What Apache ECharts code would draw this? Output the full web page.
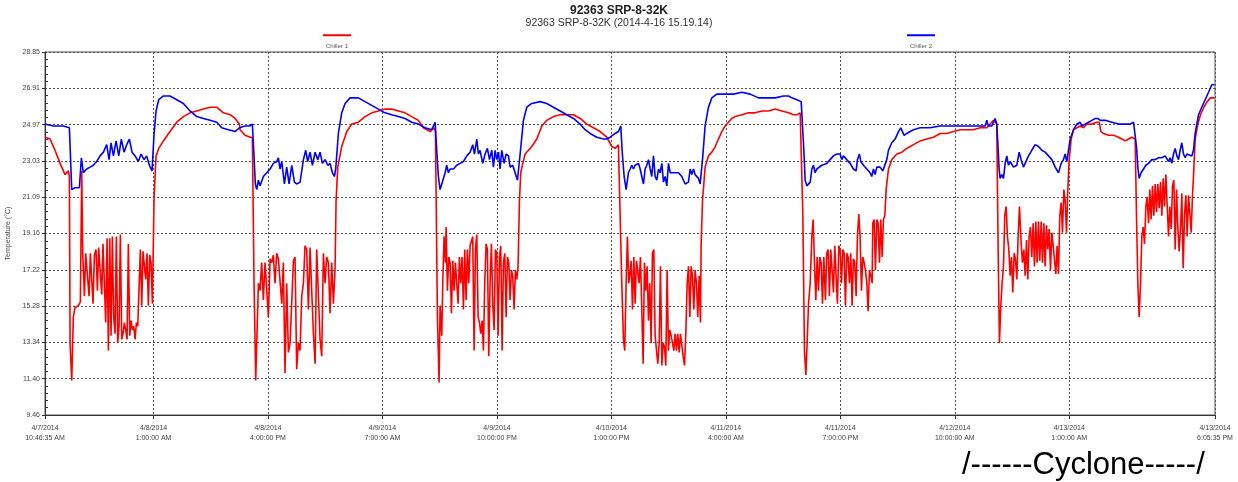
<!DOCTYPE html>
<html><head><meta charset="utf-8">
<script src="https://cdn.jsdelivr.net/npm/echarts@6/dist/echarts.min.js"></script>
<style>html,body{margin:0;padding:0;background:#fff}#chart{width:1238px;height:482px}</style>
</head><body><div id="chart"></div>
<script>
const chartTitle = '92363 SRP-8-32K';
const chartSubtitle = '92363 SRP-8-32K (2014-4-16 15.19.14)';
const footnote = '/------Cyclone-----/';
const yAxisName = 'Temperature (°C)';
const seriesNames = ['Chiller 1', 'Chiller 2'];
const yTickLabels = ['9.46','11.40','13.34','15.28','17.22','19.16','21.09','23.03','24.97','26.91','28.85'];
// hours counted from 4/7/2014 10:00 AM
const xTickHours = [0.776, 15, 30, 45, 60, 75, 90, 105, 120, 135, 154.1];
const xTickLabels = ['4/7/2014\n10:46:35 AM','4/8/2014\n1:00:00 AM','4/8/2014\n4:00:00 PM','4/9/2014\n7:00:00 AM','4/9/2014\n10:00:00 PM','4/10/2014\n1:00:00 PM','4/11/2014\n4:00:00 AM','4/11/2014\n7:00:00 PM','4/12/2014\n10:00:00 AM','4/13/2014\n1:00:00 AM','4/13/2014\n6:05:35 PM'];

const chiller1 = [
[0.78,24.3],[1.44,24.2],[2.09,23.6],[2.75,22.9],[3.40,22.3],[3.84,22.5],[3.97,22.2],[4.06,13.3],[4.28,11.3],[4.49,14.7],
[4.71,15.2],[5.15,15.3],[5.41,15.5],[5.59,22.5],[5.72,18.1],[5.94,15.8],[6.11,18.1],[6.33,18.0],[6.55,15.8],[6.72,18.1],
[6.90,18.2],[7.07,15.4],[7.25,18.0],[7.46,18.3],[7.64,16.1],[7.81,18.4],[8.03,18.5],[8.21,15.9],[8.38,18.6],[8.56,18.7],
[8.73,14.4],[8.91,18.9],[9.08,12.9],[9.26,18.9],[9.43,13.7],[9.60,19.0],[9.78,14.7],[9.95,13.8],[10.13,19.0],[10.30,13.3],
[10.48,14.2],[10.65,19.1],[10.83,13.5],[11.00,13.8],[11.18,14.4],[11.35,14.0],[11.53,13.5],[11.70,18.6],[11.88,13.7],[12.05,14.5],
[12.23,14.0],[12.40,14.2],[12.58,13.5],[12.75,14.4],[12.93,14.2],[13.10,14.3],[13.27,18.3],[13.45,15.3],[13.62,18.2],[13.80,18.3],
[13.97,16.7],[14.15,18.1],[14.32,15.3],[14.50,18.0],[14.67,17.6],[14.85,15.4],[15.07,21.1],[15.33,23.3],[15.68,23.7],[16.29,24.1],
[17.16,24.6],[18.04,25.1],[18.91,25.4],[19.78,25.6],[20.66,25.7],[21.53,25.8],[22.41,25.9],[23.28,25.9],[24.15,25.6],[25.03,25.5],
[25.68,25.3],[26.25,25.0],[26.34,24.7],[26.99,24.4],[27.65,24.3],[27.95,24.3],[28.17,16.5],[28.39,11.3],[28.56,13.8],[28.74,16.5],
[28.96,16.1],[29.17,17.6],[29.39,15.6],[29.61,17.6],[29.83,17.7],[30.05,14.7],[30.27,17.8],[30.49,17.6],[30.70,18.0],[30.92,16.5],
[31.14,18.1],[31.36,17.8],[31.58,17.9],[31.80,15.4],[32.01,17.6],[32.23,11.7],[32.45,16.5],[32.67,12.8],[32.89,13.3],[33.11,13.3],
[33.33,17.7],[33.54,17.9],[33.76,11.9],[33.98,13.3],[34.20,12.9],[34.42,15.8],[34.64,16.5],[34.85,18.5],[35.07,18.3],[35.29,15.1],
[35.51,18.4],[35.73,18.3],[35.95,13.8],[36.17,12.2],[36.38,18.3],[36.60,18.3],[36.82,13.5],[37.04,12.6],[37.26,18.1],[37.48,16.5],
[37.69,17.9],[37.91,17.6],[38.13,14.9],[38.35,17.6],[38.57,15.4],[38.79,17.3],[38.92,20.9],[39.14,22.7],[39.66,23.8],[40.32,24.6],
[40.97,25.0],[41.84,25.1],[42.72,25.4],[43.59,25.6],[44.47,25.7],[45.34,25.8],[46.21,25.8],[47.09,25.7],[47.96,25.6],[48.83,25.4],
[49.71,25.2],[50.36,24.8],[51.24,24.6],[51.76,24.8],[51.94,24.6],[52.20,14.7],[52.42,11.2],[52.55,15.3],[52.77,13.7],[52.90,16.5],
[53.07,19.0],[53.25,17.6],[53.34,19.5],[53.51,16.1],[53.69,17.9],[53.86,17.6],[54.04,14.9],[54.21,17.7],[54.39,16.1],[54.56,17.6],
[54.73,17.7],[54.91,15.4],[55.08,17.9],[55.26,16.5],[55.43,17.9],[55.61,15.1],[55.78,18.3],[55.96,15.6],[56.13,18.3],[56.31,16.5],
[56.48,18.5],[56.66,18.6],[56.83,19.0],[57.01,12.9],[57.18,18.3],[57.36,19.1],[57.53,14.7],[57.71,14.4],[57.88,13.8],[58.06,14.5],
[58.23,12.9],[58.40,16.5],[58.58,18.6],[58.75,18.3],[58.93,12.6],[59.10,16.5],[59.28,18.6],[59.45,15.4],[59.63,14.0],[59.80,18.3],
[59.98,18.1],[60.15,13.7],[60.33,17.9],[60.50,18.5],[60.68,12.9],[60.85,17.6],[61.03,18.1],[61.20,14.7],[61.38,17.9],[61.55,17.6],
[61.72,15.6],[61.90,17.2],[62.07,16.9],[62.25,15.1],[62.42,17.2],[62.60,16.7],[62.77,17.4],[62.95,20.9],[63.12,22.4],[63.39,22.9],
[63.69,23.4],[64.13,23.6],[64.56,23.8],[65.22,24.2],[65.88,24.9],[66.53,25.2],[67.40,25.4],[68.28,25.5],[69.15,25.5],[70.03,25.5],
[70.90,25.3],[71.77,25.0],[72.65,24.8],[73.52,24.6],[74.39,24.3],[75.05,23.8],[75.49,23.7],[75.92,23.9],[76.14,24.0],[76.36,16.5],
[76.58,13.5],[76.75,12.9],[76.93,16.5],[77.10,19.0],[77.28,16.5],[77.41,16.9],[77.59,17.7],[77.76,15.1],[77.94,17.9],[78.11,15.4],
[78.29,17.7],[78.46,17.7],[78.63,16.5],[78.81,17.9],[78.98,17.9],[79.16,12.2],[79.33,17.6],[79.51,16.1],[79.68,17.4],[79.86,14.5],
[80.03,16.5],[80.21,13.3],[80.38,18.1],[80.56,18.3],[80.73,13.7],[80.91,13.8],[81.08,12.2],[81.26,13.3],[81.43,17.4],[81.61,12.1],
[81.78,13.3],[81.96,13.1],[82.13,12.1],[82.30,17.2],[82.48,12.9],[82.65,14.0],[82.83,13.7],[83.00,13.8],[83.18,12.9],[83.35,13.8],
[83.53,12.9],[83.70,13.8],[83.88,12.8],[84.05,13.8],[84.23,13.7],[84.40,12.6],[84.58,12.1],[84.75,13.8],[84.93,16.5],[85.10,17.4],
[85.28,14.7],[85.45,17.4],[85.62,16.9],[85.80,15.1],[85.97,17.2],[86.15,16.5],[86.32,14.7],[86.50,16.9],[86.67,14.4],[86.76,18.6],
[86.94,20.9],[87.28,22.7],[87.72,23.3],[88.16,23.5],[88.60,23.8],[89.03,24.2],[89.47,24.6],[89.91,24.9],[90.34,25.1],[90.78,25.3],
[91.22,25.4],[92.09,25.5],[92.96,25.6],[93.84,25.6],[94.71,25.7],[95.59,25.7],[96.46,25.8],[97.33,25.7],[98.21,25.6],[98.86,25.5],
[99.30,25.5],[99.74,25.6],[99.95,25.7],[100.09,20.1],[100.30,12.9],[100.48,11.6],[100.65,13.3],[100.83,15.4],[101.05,16.5],[101.27,19.0],
[101.44,19.9],[101.61,17.6],[101.79,15.6],[101.96,17.9],[102.14,16.1],[102.31,17.9],[102.49,17.6],[102.66,15.4],[102.84,17.9],[103.05,15.6],
[103.22,18.1],[103.40,18.3],[103.57,15.8],[103.75,18.3],[103.92,18.4],[104.10,16.0],[104.27,18.5],[104.45,18.6],[104.62,15.4],[104.80,18.5],
[104.97,18.3],[105.15,16.5],[105.32,18.3],[105.50,18.1],[105.67,15.3],[105.85,18.1],[106.02,17.9],[106.19,16.5],[106.37,18.1],[106.54,15.3],
[106.72,17.8],[106.89,17.6],[107.07,15.8],[107.24,19.0],[107.42,20.2],[107.59,19.0],[107.77,16.1],[107.94,17.9],[108.12,17.6],[108.29,17.2],
[108.47,16.5],[108.64,15.0],[108.82,17.2],[108.99,16.9],[109.17,16.5],[109.25,19.7],[109.43,19.9],[109.60,17.2],[109.78,19.9],[109.95,19.7],
[110.13,17.6],[110.30,19.9],[110.48,17.9],[110.65,19.9],[110.83,20.1],[111.00,21.5],[111.31,22.6],[111.74,23.1],[112.40,23.4],[113.05,23.5],
[113.71,23.7],[114.15,23.8],[114.58,23.9],[115.46,24.1],[116.33,24.2],[117.20,24.3],[118.08,24.5],[118.95,24.5],[119.83,24.6],[120.70,24.7],
[121.57,24.7],[122.45,24.7],[123.32,24.8],[124.19,24.8],[124.63,25.0],[125.07,25.2],[125.33,25.3],[125.50,25.0],[125.68,18.3],[125.85,13.3],
[126.03,15.3],[126.20,16.5],[126.38,17.4],[126.55,20.1],[126.73,20.6],[126.90,19.0],[127.08,18.3],[127.25,16.9],[127.43,17.9],[127.60,16.0],
[127.78,18.1],[127.95,17.8],[128.13,16.7],[128.30,19.0],[128.48,20.6],[128.70,18.6],[128.87,17.6],[129.05,18.3],[129.22,16.9],[129.40,18.8],
[129.57,16.7],[129.74,19.0],[129.92,19.5],[130.09,17.9],[130.27,19.7],[130.44,17.4],[130.62,19.8],[130.79,17.6],[130.97,19.8],[131.14,17.7],
[131.32,19.8],[131.49,17.6],[131.67,19.7],[131.84,17.4],[132.02,19.6],[132.19,18.3],[132.37,19.4],[132.54,17.2],[132.72,19.2],[132.89,18.5],
[133.07,18.6],[133.24,17.0],[133.41,18.5],[133.59,17.0],[133.76,20.1],[133.94,20.8],[134.11,19.2],[134.29,21.5],[134.46,20.9],[134.64,19.2],
[134.81,21.5],[134.99,23.1],[135.25,24.2],[135.56,24.7],[135.99,24.8],[136.43,24.9],[136.87,24.8],[137.30,25.0],[137.96,25.0],[138.61,25.1],
[138.92,25.1],[139.14,24.6],[139.49,24.5],[140.14,24.4],[140.80,24.4],[141.45,24.3],[141.89,24.2],[142.33,24.1],[142.76,24.2],[143.20,24.3],
[143.46,24.4],[143.64,24.2],[143.81,20.1],[143.99,16.5],[144.16,14.7],[144.34,16.5],[144.51,19.0],[144.69,19.5],[144.86,18.6],[145.04,20.6],
[145.21,21.1],[145.39,19.7],[145.56,21.5],[145.73,19.9],[145.91,21.7],[146.08,20.1],[146.26,21.8],[146.43,20.3],[146.61,21.8],[146.78,20.5],
[146.96,21.9],[147.13,20.1],[147.31,22.1],[147.48,20.6],[147.66,22.3],[147.83,22.4],[148.01,19.0],[148.18,20.6],[148.36,19.4],[148.53,21.7],
[148.71,22.0],[148.88,18.3],[149.06,21.5],[149.23,19.5],[149.40,18.2],[149.58,19.4],[149.75,21.3],[149.93,17.3],[150.10,20.1],[150.28,21.2],
[150.45,19.0],[150.63,21.2],[150.80,21.3],[150.98,19.2],[151.15,21.2],[151.28,22.2],[151.50,24.2],[151.85,25.0],[152.20,25.5],[152.64,25.9],
[153.07,26.2],[153.51,26.4],[154.04,26.4]
];

const chiller2 = [
[0.78,25.0],[1.87,24.9],[3.18,24.9],[3.97,24.8],[4.28,21.5],[4.71,21.6],[5.28,21.6],[5.54,23.2],[5.80,22.4],[6.24,22.6],
[6.68,22.7],[7.11,22.8],[7.55,23.0],[7.99,23.3],[8.43,23.5],[8.86,23.9],[9.17,23.1],[9.43,24.0],[9.74,23.3],[10.09,24.1],
[10.44,23.3],[10.78,24.2],[11.13,23.5],[11.48,23.9],[11.83,24.2],[12.18,23.5],[12.58,23.3],[13.01,23.0],[13.36,23.4],[13.76,23.1],
[14.10,23.3],[14.45,22.8],[14.80,22.5],[15.07,24.5],[15.33,25.7],[15.68,26.3],[16.29,26.5],[17.16,26.5],[18.04,26.3],[18.91,26.1],
[19.78,25.7],[20.66,25.4],[21.53,25.3],[22.41,25.2],[23.28,25.1],[23.93,24.8],[24.81,24.7],[25.68,24.6],[26.25,24.8],[26.34,24.8],
[26.99,24.9],[27.65,24.9],[27.95,25.0],[28.13,23.6],[28.34,21.8],[28.52,21.5],[28.74,22.0],[28.96,21.7],[29.39,22.2],[29.83,22.4],
[30.27,22.6],[30.70,22.9],[31.14,23.0],[31.36,23.2],[31.58,22.6],[31.80,23.0],[32.15,21.8],[32.45,22.7],[32.76,21.8],[33.11,22.8],
[33.46,21.9],[33.76,21.8],[34.20,21.9],[34.64,23.1],[34.94,23.6],[35.20,23.0],[35.51,23.5],[35.82,22.8],[36.17,23.5],[36.52,23.1],
[36.82,23.5],[37.13,22.9],[37.48,23.1],[37.83,22.8],[38.13,22.9],[38.44,22.4],[38.70,22.2],[38.87,22.6],[39.22,24.5],[39.66,25.6],
[40.10,26.1],[40.75,26.4],[41.84,26.4],[42.72,26.2],[43.59,26.0],[44.47,25.8],[45.34,25.6],[46.21,25.5],[47.09,25.4],[47.96,25.3],
[48.83,25.1],[49.71,25.0],[50.58,24.8],[51.46,24.7],[51.68,24.7],[51.90,25.1],[52.11,23.6],[52.33,22.2],[52.55,21.5],[52.77,21.8],
[52.99,21.7],[53.21,22.4],[53.42,22.8],[53.64,22.4],[53.86,22.6],[54.30,22.6],[54.73,22.8],[55.17,22.9],[55.61,23.0],[56.05,23.3],
[56.48,23.5],[56.83,23.9],[57.05,23.4],[57.36,24.2],[57.57,23.4],[57.79,23.6],[58.14,22.9],[58.45,23.4],[58.75,23.7],[59.02,23.1],
[59.32,23.6],[59.54,22.7],[59.76,23.6],[59.98,23.1],[60.20,23.5],[60.41,22.6],[60.63,23.6],[60.94,22.9],[61.20,23.4],[61.51,23.3],
[61.72,22.7],[62.07,22.8],[62.38,22.4],[62.69,22.0],[62.86,22.0],[63.04,23.4],[63.47,25.2],[63.91,25.9],[64.56,26.1],[65.66,26.2],
[66.53,26.1],[67.40,25.9],[68.28,25.7],[69.15,25.5],[70.03,25.3],[70.90,25.0],[71.55,24.7],[72.21,24.5],[73.08,24.3],[73.96,24.2],
[74.39,24.2],[74.83,24.3],[75.49,24.5],[75.92,24.6],[76.23,24.9],[76.40,23.6],[76.67,22.2],[76.93,21.5],[77.23,22.4],[77.46,22.6],
[77.67,22.8],[77.89,22.6],[78.11,22.8],[78.33,22.7],[78.55,22.9],[78.77,22.6],[78.98,22.7],[79.20,21.8],[79.42,22.6],[79.64,22.8],
[79.86,23.1],[80.08,22.6],[80.29,22.2],[80.51,23.3],[80.73,22.2],[80.95,22.0],[81.17,22.6],[81.39,22.4],[81.61,22.9],[81.82,21.9],
[82.04,22.2],[82.26,21.7],[82.48,22.9],[82.70,22.4],[82.92,22.5],[83.35,22.4],[83.79,22.4],[84.23,22.2],[84.66,21.8],[84.88,21.8],
[85.10,21.9],[85.32,22.6],[85.54,22.3],[85.76,22.6],[85.97,22.3],[86.19,22.2],[86.41,22.1],[86.63,21.8],[86.76,21.8],[86.94,23.1],
[87.28,24.9],[87.72,25.9],[88.16,26.4],[88.81,26.6],[89.91,26.6],[91.00,26.6],[92.09,26.7],[93.18,26.6],[94.27,26.4],[95.37,26.4],
[96.46,26.4],[97.55,26.5],[98.21,26.5],[98.64,26.4],[99.30,26.3],[99.87,26.2],[100.04,26.1],[100.22,23.6],[100.39,22.0],[100.61,21.7],
[100.83,21.8],[101.05,21.9],[101.27,22.6],[101.48,22.8],[101.70,22.4],[101.92,22.6],[102.14,22.6],[102.58,22.8],[102.79,22.7],[103.22,22.9],
[103.66,23.1],[104.10,23.3],[104.53,23.4],[104.75,23.5],[104.97,23.4],[105.19,23.1],[105.41,23.3],[105.84,23.1],[106.28,22.9],[106.72,22.6],
[107.07,22.5],[107.24,23.1],[107.50,23.4],[107.68,23.0],[108.03,22.8],[108.47,22.6],[108.90,22.4],[109.12,22.2],[109.34,22.6],[109.56,22.3],
[109.78,22.7],[110.00,22.6],[110.21,22.7],[110.56,22.5],[110.78,22.6],[111.09,23.1],[111.31,23.6],[111.74,24.0],[112.18,24.2],[112.62,24.6],
[112.92,24.8],[113.18,24.9],[113.36,24.4],[113.71,24.5],[114.15,24.6],[114.58,24.7],[115.46,24.8],[116.77,24.8],[118.08,24.9],[119.39,24.9],
[120.70,24.9],[122.01,24.9],[123.32,24.9],[123.98,24.9],[124.19,25.2],[124.41,24.9],[124.85,24.9],[125.07,25.1],[125.29,25.3],[125.50,25.0],
[125.64,24.0],[125.81,22.6],[125.94,22.1],[126.16,22.3],[126.38,22.1],[126.60,22.9],[126.81,23.3],[127.03,22.8],[127.25,23.0],[127.69,22.7],
[128.13,22.8],[128.43,23.5],[128.70,23.1],[129.00,22.7],[129.22,22.8],[129.66,23.3],[130.09,23.6],[130.53,23.9],[130.97,23.8],[131.40,23.6],
[131.84,23.5],[132.28,23.3],[132.72,23.1],[133.15,22.7],[133.59,22.4],[133.94,22.9],[134.24,23.1],[134.46,23.4],[134.68,23.0],[134.90,23.1],
[135.12,24.2],[135.56,24.7],[135.99,25.0],[136.43,25.1],[136.65,24.9],[137.08,25.0],[137.52,25.1],[137.96,25.2],[138.39,25.3],[138.74,25.3],
[139.05,25.2],[139.71,25.2],[140.58,25.1],[141.45,25.0],[142.33,25.0],[142.98,25.0],[143.42,25.1],[143.64,25.0],[143.81,23.8],[143.99,22.7],
[144.16,22.1],[144.42,22.4],[144.73,22.6],[145.04,22.8],[145.39,22.9],[145.82,23.1],[146.26,23.1],[146.70,23.2],[147.13,23.2],[147.57,23.3],
[147.79,23.4],[148.01,23.0],[148.23,23.2],[148.44,22.9],[148.66,23.4],[148.88,23.7],[149.10,23.3],[149.32,23.1],[149.53,23.6],[149.75,24.0],
[149.97,23.4],[150.19,23.2],[150.41,23.4],[150.63,23.3],[151.06,23.3],[151.28,23.6],[151.50,24.5],[151.94,25.5],[152.37,25.9],[152.81,26.3],
[153.25,26.7],[153.69,27.1],[154.04,27.1]
];

const Y_MIN = 9.46, Y_MAX = 28.85, Y_STEP = 1.939;
const FONT = 'Liberation Sans';
const chart = echarts.init(document.getElementById('chart'), null, {renderer: 'canvas'});

function nearestIndex(arr, v) {
  let best = 0;
  for (let i = 1; i < arr.length; i++) if (Math.abs(arr[i] - v) < Math.abs(arr[best] - v)) best = i;
  return best;
}

const legendBase = {
  icon: 'rect', itemWidth: 28, itemHeight: 2, selectedMode: false, padding: 0,
  formatter: name => '\n\n' + name,
  textStyle: {fontSize: 6, color: '#555', fontFamily: FONT, lineHeight: 11.5, padding: [0, 0, 0, -30]}
};

chart.setOption({
  animation: false,
  backgroundColor: '#fff',
  textStyle: {fontFamily: FONT},
  title: [
    {text: chartTitle, subtext: chartSubtitle, left: 'center', top: 5, padding: 0, itemGap: 1,
     textStyle: {fontSize: 12, fontWeight: 'bold', color: '#222', fontFamily: FONT},
     subtextStyle: {fontSize: 10.5, color: '#333', fontFamily: FONT}},
    {text: footnote, left: 962, top: 450, padding: 0,
     textStyle: {fontSize: 31, fontWeight: 'normal', color: '#000', fontFamily: FONT}}
  ],
  legend: [
    Object.assign({}, legendBase, {data: [seriesNames[0]], left: 323, top: 18}),
    Object.assign({}, legendBase, {data: [seriesNames[1]], left: 907, top: 18})
  ],
  grid: {left: 45, right: 23, top: 52, bottom: 67, show: true, borderColor: '#555', borderWidth: 1,
         containLabel: false, outerBoundsMode: 'none'},
  xAxis: {
    type: 'value', min: xTickHours[0], max: xTickHours[xTickHours.length - 1],
    axisLine: {lineStyle: {color: '#333', width: 1}},
    axisTick: {customValues: xTickHours, length: 4, lineStyle: {color: '#333'}},
    axisLabel: {customValues: xTickHours, fontSize: 7, lineHeight: 10, color: '#444', margin: 8,
      showMinLabel: true, showMaxLabel: true,
      formatter: v => xTickLabels[nearestIndex(xTickHours, v)]},
    splitLine: {show: true, lineStyle: {color: '#555', type: [2, 2], width: 1}}
  },
  yAxis: [
    {
      type: 'value', position: 'left', min: Y_MIN, max: Y_MAX, interval: Y_STEP,
      name: yAxisName, nameLocation: 'middle', nameGap: 33,
      nameTextStyle: {fontSize: 7, color: '#444', fontFamily: FONT},
      axisLine: {show: true, lineStyle: {color: '#333', width: 1}},
      axisTick: {show: true, length: 3, lineStyle: {color: '#333'}},
      axisLabel: {fontSize: 7, color: '#444', margin: 5,
        formatter: v => yTickLabels[Math.round((v - Y_MIN) / Y_STEP)]},
      splitLine: {show: true, lineStyle: {color: '#555', type: [2, 2], width: 1}}
    },
    {
      type: 'value', position: 'left', min: Y_MIN, max: Y_MAX, interval: Y_STEP,
      axisLine: {show: false}, axisLabel: {show: false},
      axisTick: {show: false, inside: true},
      minorTick: {show: true, splitNumber: 5, length: 3, lineStyle: {color: '#333'}},
      splitLine: {show: false}
    }
  ],
  series: [
    {name: seriesNames[0], type: 'line', data: chiller1, showSymbol: false, symbol: 'none',
     lineStyle: {color: '#ff0000', width: 1.6}, itemStyle: {color: '#ff0000'}, z: 2},
    {name: seriesNames[1], type: 'line', data: chiller2, showSymbol: false, symbol: 'none',
     lineStyle: {color: '#0000ff', width: 1.6}, itemStyle: {color: '#0000ff'}, z: 3}
  ]
});
</script></body></html>
